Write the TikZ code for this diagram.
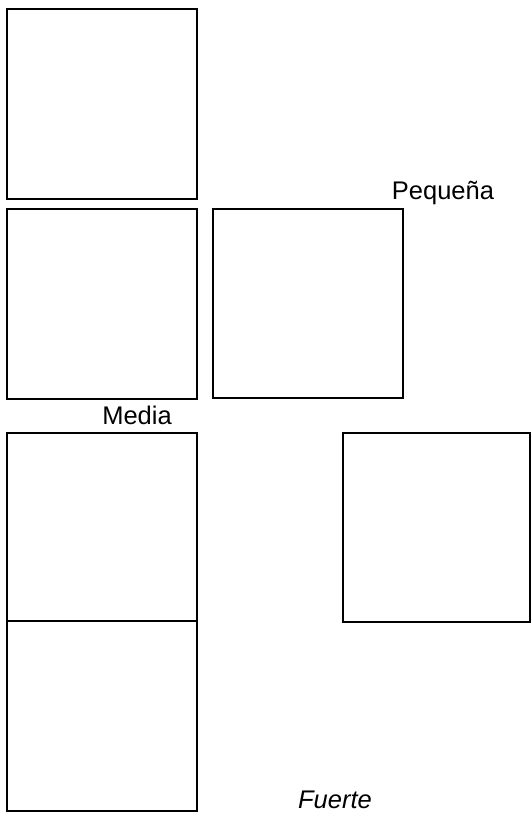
\documentclass[tikz,border=0pt]{standalone}
\usepackage{fontspec}
\setmainfont{Liberation Sans}
\usepackage{tikz}
\usetikzlibrary{positioning}

\tikzset{caja/.style={draw, black, line width=1.6pt, inner sep=0pt, minimum width=190pt, minimum height=190pt},
  gruesa/.style={line width=2.2pt},
  rotulo/.style={anchor=base, inner sep=0pt, font=\fontsize{25.5}{30}\selectfont}}

\begin{document}
\begin{tikzpicture}[x=1pt,y=-1pt]
\useasboundingbox (0,0) rectangle (530,813);

		\node[caja,gruesa] (c1) at (102,104) {};
		\node[caja] (c2) at (102,304) {};
		\node[caja, minimum height=189pt] (c3) at (308,303.5) {};
		\node[caja, minimum height=188pt] (c4) at (102,527) {};
		\node[caja] (c5) at (102,716) {};
		\node[caja,gruesa, minimum width=187pt, minimum height=189pt] (c6) at (436.5,527.5) {};

		\node[rotulo] (pequena) at (443,200) {Pequeña};
		\node[rotulo] (media) at (137,424) {Media};
		\node[rotulo] (fuerte) at (335,808) {\itshape Fuerte};
\end{tikzpicture}
\end{document}
